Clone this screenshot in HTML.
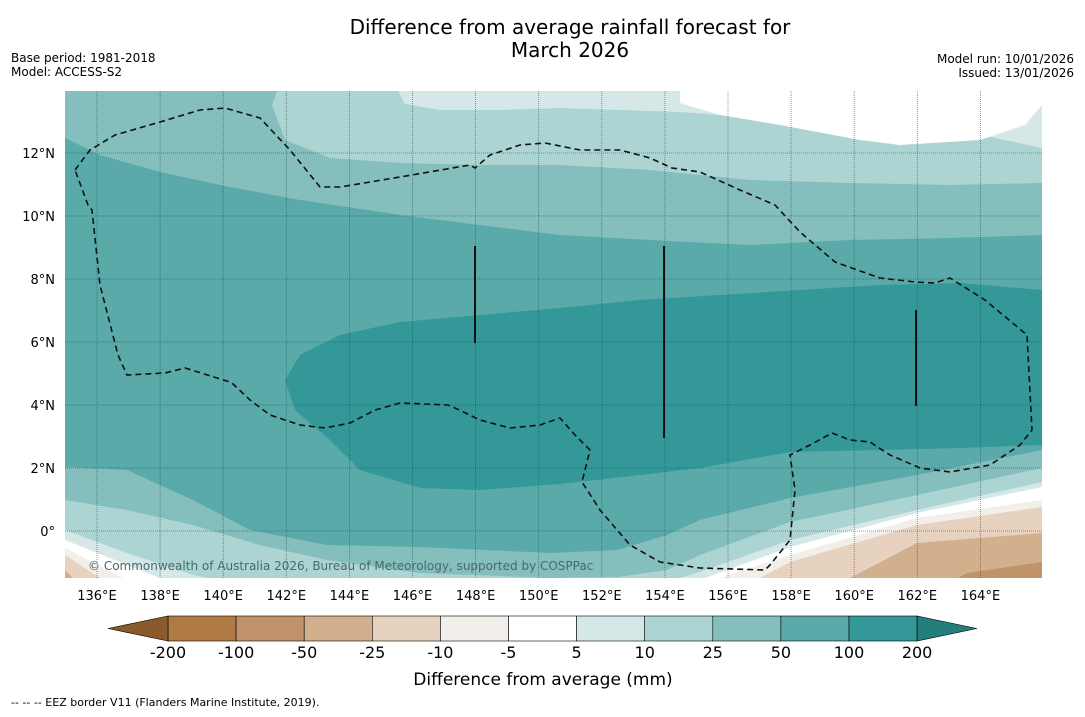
<!DOCTYPE html>
<html><head><meta charset="utf-8"><style>
body{margin:0;background:#fff;width:1085px;height:713px;overflow:hidden;font-family:"DejaVu Sans","Liberation Sans",sans-serif}
</style></head><body>
<svg id="s" width="1085" height="713" xmlns="http://www.w3.org/2000/svg">
<text x="570" y="34" font-size="20" text-anchor="middle">Difference from average rainfall forecast for</text>
<text x="570" y="57" font-size="20" text-anchor="middle">March 2026</text>
<text x="11" y="62" font-size="12">Base period: 1981-2018</text>
<text x="11" y="76" font-size="12">Model: ACCESS-S2</text>
<text x="1074" y="63" font-size="12" text-anchor="end">Model run: 10/01/2026</text>
<text x="1074" y="77" font-size="12" text-anchor="end">Issued: 13/01/2026</text>
<defs><clipPath id="mc"><rect x="65" y="91" width="977" height="487"/></clipPath></defs>
<g id="map" clip-path="url(#mc)"></g>
<g id="axes"></g>
<g id="cbar"></g>
<text x="543" y="685" font-size="17" text-anchor="middle">Difference from average (mm)</text>
<text x="11" y="706" font-size="11">--  --  -- EEZ border V11 (Flanders Marine Institute, 2019).</text>
</svg>
<script>
const lonTicks=[136,138,140,142,144,146,148,150,152,154,156,158,160,162,164];
const latTicks=[12,10,8,6,4,2,0];
const cbLevels=["-200","-100","-50","-25","-10","-5","5","10","25","50","100","200"];
const cbColors=["#b07a44","#c0936a","#d2b08e","#e6d2bf","#f2efeb","#ffffff","#d5e8e7","#abd4d3","#84bebd","#5aaaa9","#339897"];
const NS="http://www.w3.org/2000/svg";
const X=lon=>97+(lon-136)*31.55, Y=lat=>531-lat*31.5;
function mk(t,a,p){const e=document.createElementNS(NS,t);for(const k in a)e.setAttribute(k,a[k]);p.appendChild(e);return e;}
const map=document.getElementById('map'),axes=document.getElementById('axes'),cb=document.getElementById('cbar');
let r=mk('rect',{x:65,y:91,width:977,height:487,fill:'#5aaaa9'},map);


function poly(pts,fill,name){const p=mk('polygon',{points:pts,fill:fill},map);

}
poly("65,91 65,138 100,155 160,172 230,187 300,200 400,215 480,225 560,235 650,240 750,245 850,240 950,238 1042,235 1042,91","#84bebd","band-25-50-north");
poly("277,91 272,105 285,140 330,158 400,163 480,165 560,165 650,170 750,180 850,183 950,185 1042,183 1042,91","#abd4d3","band-10-25-north");
poly("398,91 405,104 440,110 500,110 560,108 620,110 680,112 760,118 850,125 950,128 1042,148 1042,91","#d5e8e7","band-5-10-north");
poly("680,91 680,103 720,115 780,125 860,140 900,145 980,140 1025,125 1042,105 1042,91","#ffffff","band-white-north");
poly("285,380 300,355 340,335 400,322 480,315 560,308 640,300 720,295 800,290 880,285 960,283 1042,290 1042,445 960,448 880,450 790,452 700,468 640,475 560,484 480,490 420,488 360,470 330,440 295,410","#339897","band-100-200-core");
const bottoms=[
["65,467 127,470 193,500 250,530 327,545 420,547 550,553 617,550 667,535 700,520 790,498 917,475 1042,450","#84bebd"],
["65,500 127,510 193,525 260,545 327,560 420,573 550,578 617,577 667,570 700,555 790,522 917,495 1042,468","#abd4d3"],
["65,530 127,553 193,575 260,590 600,600 680,578 700,572 790,540 917,510 1042,482","#d5e8e7"],
["65,540 127,565 160,578 200,600 650,600 700,580 790,547 917,513 1042,487","#ffffff"],
["65,548 127,580 200,610 680,610 720,578 790,555 917,518 1042,500","#f2efeb"],
["65,555 100,578 150,610 720,610 760,578 790,562 917,525 1042,507","#e6d2bf"],
["65,570 80,585 790,610 850,578 917,543 1042,533","#d2b08e"],
["900,610 967,573 1042,562","#c0936a"]];
bottoms.forEach((b,i)=>poly(b[0]+" 1042,620 65,620",b[1],"band-south-"+i));
lonTicks.forEach(l=>{const g=mk('line',{x1:X(l),x2:X(l),y1:91,y2:578,stroke:'#2a4f4e','stroke-width':0.8,'stroke-dasharray':'1,1','stroke-opacity':0.7},map);


const t=mk('text',{x:X(l),y:600,'font-size':13,'text-anchor':'middle'},axes);t.textContent=l+'°E';

});
latTicks.forEach(l=>{const g=mk('line',{x1:65,x2:1042,y1:Y(l),y2:Y(l),stroke:'#2a4f4e','stroke-width':0.8,'stroke-dasharray':'1,1','stroke-opacity':0.7},map);


const t=mk('text',{x:55,y:Y(l)+5,'font-size':13,'text-anchor':'end'},axes);t.textContent=l===0?'0°':l+'°N';

});
const eez=mk('polygon',{points:"75,170 90,150 115,135 160,122 200,110 225,108 260,118 290,150 320,187 340,187 400,177 470,165 475,168 490,155 520,145 545,143 580,150 620,150 650,158 672,168 700,172 740,190 775,205 800,232 835,262 880,278 915,282 935,283 950,278 985,300 1027,335 1032,430 1020,445 990,465 950,472 920,468 890,455 870,442 850,440 832,433 810,445 790,455 795,490 790,540 770,565 765,570 700,568 660,562 630,545 600,510 582,482 590,450 575,435 560,418 540,425 510,428 480,420 455,408 448,405 400,403 375,410 350,423 325,428 300,425 270,415 250,400 232,383 230,382 185,368 165,373 127,375 118,355 100,285 92,210 88,205",fill:'none',stroke:'#111','stroke-width':1.6,'stroke-dasharray':'6,4'},map);


[[475,246,343],[664,246,438],[916,310,406]].forEach(v=>{const l=mk('line',{x1:v[0],x2:v[0],y1:v[1],y2:v[2],stroke:'#111','stroke-width':2},map);

});
const cp=mk('text',{x:88,y:570,'font-size':12,fill:'#4a6a6a'},map);cp.textContent='© Commonwealth of Australia 2026, Bureau of Meteorology, supported by COSPPac';


const cx0=168,cw=68.1,cy=616,ch=25;
cbColors.forEach((c,i)=>{const b=mk('rect',{x:cx0+i*cw,y:cy,width:cw,height:ch,fill:c,stroke:'#000','stroke-width':0.6},cb);

});
let lt=mk('polygon',{points:`${cx0},${cy} ${cx0},${cy+ch} 108,${cy+ch/2}`,fill:'#8a5a2c',stroke:'#000','stroke-width':0.6},cb);


let rt=mk('polygon',{points:`${cx0+11*cw},${cy} ${cx0+11*cw},${cy+ch} 977,${cy+ch/2}`,fill:'#237e7c',stroke:'#000','stroke-width':0.6},cb);


cbLevels.forEach((v,i)=>{const t=mk('text',{x:cx0+i*cw,y:658,'font-size':16,'text-anchor':'middle'},cb);t.textContent=v;

});
</script>
</body></html>
